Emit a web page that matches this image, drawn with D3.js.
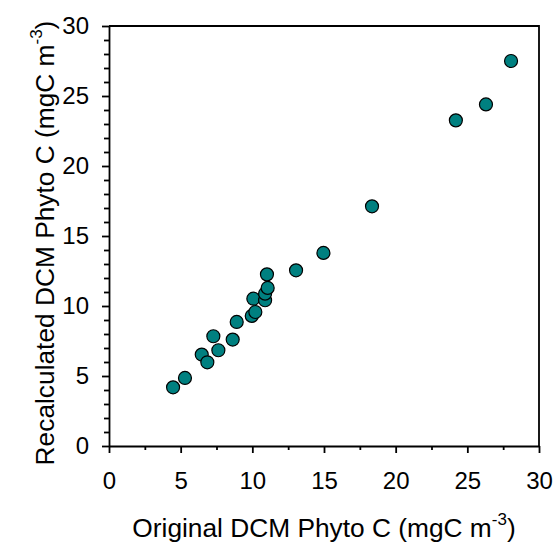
<!DOCTYPE html>
<html>
<head>
<meta charset="utf-8">
<script src="https://cdn.jsdelivr.net/npm/d3@7"></script>
<style>
  html, body { margin: 0; padding: 0; background: #fff; }
  svg { display: block; font-family: "Liberation Sans", Arial, sans-serif; }
</style>
</head>
<body>
<svg id="chart" width="557" height="544"></svg>
<script>
// Data
const originalC = [4.47, 5.30, 6.47, 6.86, 7.28, 7.63, 8.63, 8.91, 9.96, 10.21, 10.07, 10.89, 10.89, 11.07, 11.02, 13.05, 14.96, 18.35, 24.2, 26.3, 28.05];
const recalculatedC = [4.19, 4.86, 6.53, 5.98, 7.84, 6.84, 7.60, 8.86, 9.29, 9.57, 10.52, 10.41, 10.88, 11.29, 12.26, 12.55, 13.79, 17.12, 23.26, 24.4, 27.5];
const xTicks = [0, 5, 10, 15, 20, 25, 30];
const yTicks = [0, 5, 10, 15, 20, 25, 30];
const xTitle = "Original DCM Phyto C (mgC m";
const yTitle = "Recalculated DCM Phyto C (mgC m";
const unitSup = "-3";

const svg = d3.select("#chart");
const mLeft = 109, mRight = 539, mTop = 26, mBottom = 446;
const FONT = "Liberation Sans, Arial, sans-serif";

const x = d3.scaleLinear().domain([0, 30]).range([mLeft, mRight]);
const y = d3.scaleLinear().domain([0, 30]).range([mBottom, mTop]);

const xMinor = d3.range(0, 30.01, 2.5).filter(v => v % 5 !== 0);
const yMinor = d3.range(0, 30.01, 1).filter(v => v % 5 !== 0);

// frame top & right
svg.append("line").attr("x1", mLeft).attr("x2", mRight).attr("y1", mTop).attr("y2", mTop)
  .attr("stroke", "#000").attr("stroke-width", 1.8);
svg.append("line").attr("x1", mRight).attr("x2", mRight).attr("y1", mTop - 0.9).attr("y2", mBottom)
  .attr("stroke", "#000").attr("stroke-width", 1.8);

// x axis
const gx = svg.append("g").attr("transform", `translate(0,${mBottom})`)
  .call(d3.axisBottom(x).tickValues(xTicks).tickSize(7).tickSizeOuter(0).tickPadding(19).tickFormat(d3.format("d")));
gx.append("g").call(d3.axisBottom(x).tickValues(xMinor).tickSize(4).tickSizeOuter(0).tickFormat(""))
  .select(".domain").remove();
gx.selectAll(".domain, line").attr("stroke", "#000").attr("stroke-width", 1.8);
gx.selectAll("text").attr("font-size", 24).attr("fill", "#000").attr("font-family", FONT);

// y axis
const gy = svg.append("g").attr("transform", `translate(${mLeft},0)`)
  .call(d3.axisLeft(y).tickValues(yTicks).tickSize(7).tickSizeOuter(0).tickPadding(13).tickFormat(d3.format("d")));
gy.append("g").call(d3.axisLeft(y).tickValues(yMinor).tickSize(5).tickSizeOuter(0).tickFormat(""))
  .select(".domain").remove();
gy.selectAll(".domain, line").attr("stroke", "#000").attr("stroke-width", 1.8);
gy.selectAll("text").attr("font-size", 24).attr("fill", "#000").attr("font-family", FONT);

// points
const pts = originalC.map((v, i) => ({ x: v, y: recalculatedC[i] }));
svg.append("g").selectAll("circle").data(pts).join("circle")
  .attr("cx", d => x(d.x)).attr("cy", d => y(d.y)).attr("r", 6.5)
  .attr("fill", "#008080").attr("stroke", "#000").attr("stroke-width", 1.2);

// x title
const xt = svg.append("text").attr("x", 324).attr("y", 537)
  .attr("text-anchor", "middle").attr("font-size", 26.3).attr("fill", "#000").attr("font-family", FONT);
xt.append("tspan").text(xTitle);
xt.append("tspan").attr("font-size", 17).attr("dy", -12).text(unitSup);
xt.append("tspan").attr("dy", 12).text(")");

// y title
const yt = svg.append("text").attr("transform", `translate(54,243) rotate(-90)`)
  .attr("text-anchor", "middle").attr("font-size", 26.3).attr("fill", "#000").attr("font-family", FONT);
yt.append("tspan").text(yTitle);
yt.append("tspan").attr("font-size", 17).attr("dy", -12).text(unitSup);
yt.append("tspan").attr("dy", 12).text(")");
</script>
</body>
</html>
